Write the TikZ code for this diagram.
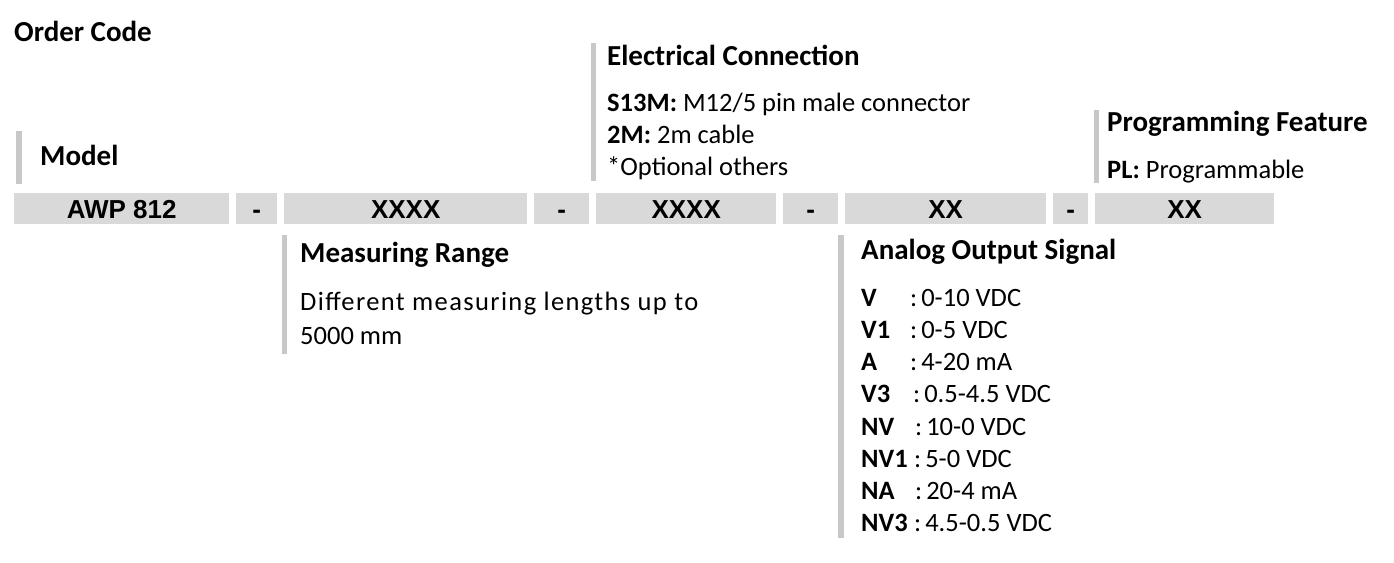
\documentclass[tikz,border=0pt]{standalone}
\usepackage{fontspec}
\setmainfont{Carlito}
\newfontfamily\boxfont{Liberation Sans}
\newfontfamily\widefont[LetterSpace=5.2]{Carlito}
\usetikzlibrary{positioning}
\definecolor{codegray}{HTML}{D9D9D9}
\definecolor{bargray}{HTML}{C8C8C8}
\newcommand{\outkey}[2]{\makebox[#1pt][l]{\textbf{#2}}:\hspace{4pt}}
\tikzset{
    codebox/.style={fill=codegray, inner sep=0pt, anchor=west, minimum height=31,
        text height=19, text depth=0, font=\boxfont\bfseries\fontsize{26}{26}\selectfont},
    headtext/.style={anchor=base west, inner sep=0pt, font=\bfseries\fontsize{29}{33}\selectfont},
    bodytext/.style={anchor=base west, inner sep=0pt, align=left, font=\fontsize{26.5}{32}\selectfont},
    sidebar/.style={fill=bargray},
}

\begin{document}
\begin{tikzpicture}[x=1pt, y=-1pt]
\useasboundingbox (0,0) rectangle (1394,562);

% code line
\node[codebox, minimum width=215] (awp) at (14,208.5) {AWP 812};
\node[codebox, minimum width=41] (dashA) at (236,208.5) {-};
\node[codebox, minimum width=243] (range) at (284,208.5) {XXXX};
\node[codebox, minimum width=55] (dashB) at (534,208.5) {-};
\node[codebox, minimum width=180] (conn) at (596,208.5) {XXXX};
\node[codebox, minimum width=55] (dashC) at (783,208.5) {-};
\node[codebox, minimum width=201] (output) at (845,208.5) {XX};
\node[codebox, minimum width=35] (dashD) at (1053,208.5) {-};
\node[codebox, minimum width=179] (prog) at (1095,208.5) {XX};

% headings and texts (base = last line)
\node[headtext] (title) at (14,41) {Order Code};

\fill[sidebar] (16,131) rectangle (22,184);
\node[headtext] (modelhead) at (40,165) {Model};

\fill[sidebar] (591,43) rectangle (596,181);
\node[headtext] (connhead) at (607,65) {Electrical Connection};
\node[bodytext] (conntext) at (607,175.5) {\textbf{S13M:} M12/5 pin male connector\\
    \textbf{2M:} 2m cable\\ *Optional others};

\fill[sidebar] (1094,110) rectangle (1099,183);
\node[headtext] (proghead) at (1107,131) {Programming Feature};
\node[bodytext] (progtext) at (1107,178.5) {\textbf{PL:} Programmable};

\fill[sidebar] (282,235) rectangle (287,354);
\node[headtext] (rangehead) at (300,262) {Measuring Range};
\node[bodytext, font=\fontsize{26.5}{34}\selectfont] (rangetext) at (300,344.5)
    {{\widefont Different measuring lengths up to}\\ 5000 mm};

\fill[sidebar] (838,235) rectangle (844,538);
\node[headtext] (outputhead) at (861,259) {Analog Output Signal};
\node[bodytext, font=\fontsize{26.5}{32.14}\selectfont] (outputlist) at (861,531.5) {%
    \outkey{49}{V}0-10 VDC\\
    \outkey{49}{V1}0-5 VDC\\
    \outkey{49}{A}4-20 mA\\
    \outkey{52}{V3}0.5-4.5 VDC\\
    \outkey{54}{NV}10-0 VDC\\
    \outkey{53}{NV1}5-0 VDC\\
    \outkey{54}{NA}20-4 mA\\
    \outkey{53}{NV3}4.5-0.5 VDC};
\end{tikzpicture}
\end{document}
